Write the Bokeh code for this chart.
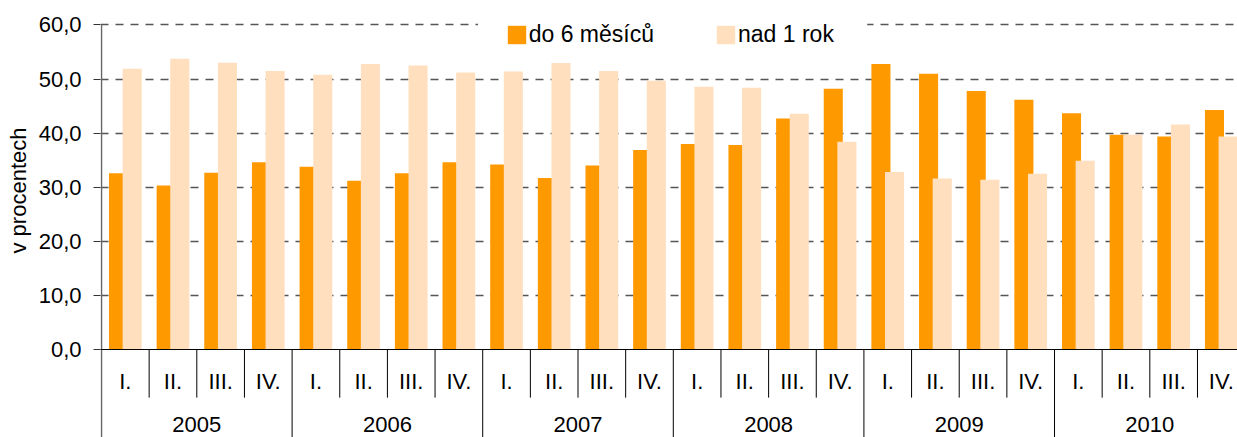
from bokeh.plotting import figure
from bokeh.models import (Range1d, FixedTicker, Span, Legend, LegendItem,
                          ColumnDataSource, BoxAnnotation, Title)
from bokeh.embed import file_html
from bokeh.resources import INLINE
from bokeh.core.properties import value

years = ["2005", "2006", "2007", "2008", "2009", "2010"]
quarters = ["I.", "II.", "III.", "IV."]
do6 = [32.6, 30.3, 32.7, 34.6, 33.8, 31.2, 32.6, 34.6,
       34.2, 31.7, 34.0, 36.9, 38.0, 37.8, 42.7, 48.2,
       52.8, 51.0, 47.8, 46.2, 43.7, 39.7, 39.4, 44.3]
nad1 = [51.9, 53.75, 53.0, 51.5, 50.8, 52.8, 52.5, 51.2,
        51.4, 52.95, 51.5, 49.7, 48.6, 48.4, 43.6, 38.4,
        32.8, 31.6, 31.4, 32.5, 34.9, 39.7, 41.6, 39.4]
y_ticks = [0, 10, 20, 30, 40, 50, 60]
y_labels = ["0,0", "10,0", "20,0", "30,0", "40,0", "50,0", "60,0"]
y_title = "v procentech"

ORANGE = "#FF9900"
LIGHT = "#FFDFBE"
FONT = "Liberation Sans"
FS = "22px"

n = len(do6)
idx = list(range(n))
Y0 = -16.27
YMAX = y_ticks[-1]

p = figure(width=1237, height=437, output_backend="svg", toolbar_location=None,
           x_range=Range1d(-0.021, 23.84), y_range=Range1d(Y0, 61.2),
           x_axis_type=None, min_border_left=100, min_border_right=0,
           min_border_top=18, min_border_bottom=0)
p.outline_line_color = None
p.background_fill_color = "white"

# y axis (ticks + labels)
ya = p.yaxis[0]
ya.ticker = FixedTicker(ticks=y_ticks)
ya.major_label_overrides = {t: l for t, l in zip(y_ticks, y_labels)}
ya.major_label_text_font = FONT
ya.major_label_text_font_size = FS
ya.major_label_text_color = "black"
ya.major_tick_out = 7
ya.major_tick_in = 0
ya.minor_tick_line_color = None
ya.major_tick_line_color = "#333333"
ya.axis_line_color = None
ya.major_label_standoff = 12

# axis title, centred on the 0-60 part of the axis
p.add_layout(Title(text=y_title, align="left", offset=184,
                   vertical_align="middle", standoff=8,
                   text_font=FONT, text_font_size=FS,
                   text_font_style="normal", text_color="black"), "left")

p.xgrid.visible = False
p.ygrid.ticker = FixedTicker(ticks=y_ticks[1:])
p.ygrid.grid_line_color = "#555555"
p.ygrid.grid_line_dash = "8 7"
p.ygrid.grid_line_width = 1.4

src = ColumnDataSource(dict(
    x1=[i + 0.357 for i in idx], x2=[i + 0.643 for i in idx],
    do6=do6, nad1=nad1))
r1 = p.vbar(x="x1", top="do6", bottom=0, width=0.4, source=src,
            fill_color=ORANGE, line_color=None)
r2 = p.vbar(x="x2", top="nad1", bottom=0, width=0.4, source=src,
            fill_color=LIGHT, line_color=None)

# vertical axis line (runs down through the category area)
p.segment(x0=[0], x1=[0], y0=[Y0], y1=[YMAX], line_color="#666666",
          line_width=1.5)

# x axis line at 0
p.add_layout(Span(location=0, dimension="width", line_color="black",
                  line_width=1))

# category separators
qb = [i for i in range(1, n) if i % 4 != 0]
yb = [i for i in range(4, n, 4)]
p.segment(x0=qb, x1=qb, y0=[0] * len(qb), y1=[-8.9] * len(qb),
          line_color="black", line_width=1)
p.segment(x0=yb, x1=yb, y0=[0] * len(yb), y1=[Y0] * len(yb),
          line_color="black", line_width=1)

# quarter labels
ql = [quarters[i % 4] for i in idx]
p.text(x=[i + 0.5 for i in idx], y=[-5.9] * n, text=ql,
       text_align="center", text_baseline="middle",
       text_font=value(FONT), text_font_size=FS, text_color="black")
# year labels
p.text(x=[4 * k + 2 for k in range(len(years))], y=[-13.9] * len(years),
       text=years, text_align="center", text_baseline="middle",
       text_font=value(FONT), text_font_size=FS, text_color="black")

# white area of the legend box over the top gridline
p.add_layout(BoxAnnotation(left=7.9, right=16.07, bottom=59.5, top=60.5,
                           fill_color="white", fill_alpha=1.0,
                           line_color=None, level="glyph"))

leg = Legend(items=[LegendItem(label="do 6 měsíců", renderers=[r1]),
                    LegendItem(label="nad 1 rok", renderers=[r2])],
             orientation="horizontal", location=(404.7, 389),
             margin=0, padding=0, spacing=60, label_standoff=1,
             glyph_width=23, glyph_height=23,
             label_text_font=FONT, label_text_font_size="23px",
             label_text_color="black",
             border_line_color=None, background_fill_color="white",
             background_fill_alpha=1.0)
p.add_layout(leg)

open("out.html", "w").write(file_html(p, INLINE))
